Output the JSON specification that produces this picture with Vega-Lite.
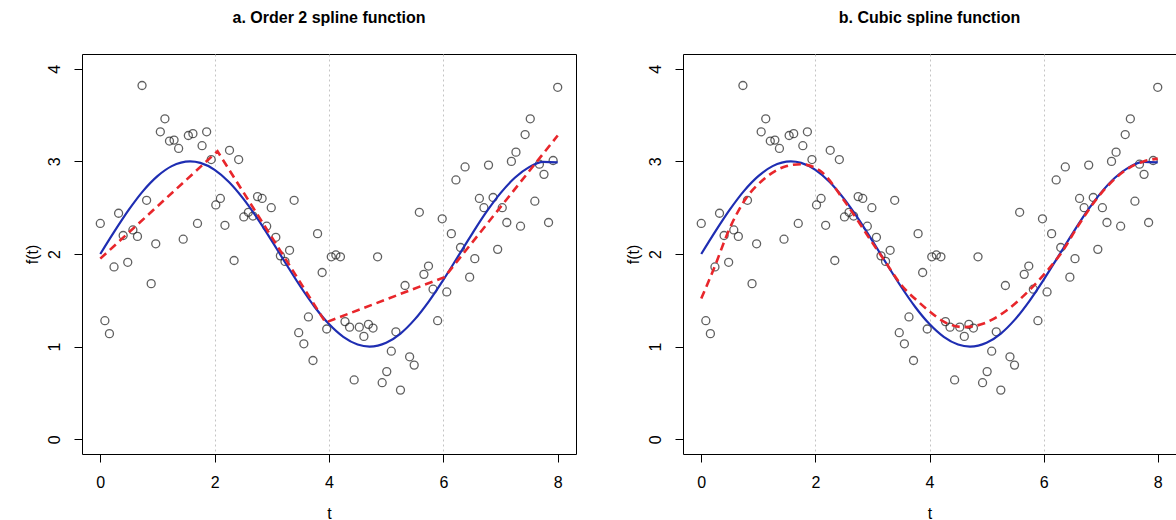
{
  "$schema": "https://vega.github.io/schema/vega-lite/v6.json",
  "background": "white",
  "padding": {"left": 23, "top": 9, "right": 0, "bottom": 0},
  "spacing": 47,
  "datasets": {
    "pts": [
      {"t":0.00,"y":2.33},{"t":0.08,"y":1.28},{"t":0.16,"y":1.14},{"t":0.24,"y":1.86},{"t":0.32,"y":2.44},
      {"t":0.40,"y":2.20},{"t":0.48,"y":1.91},{"t":0.57,"y":2.26},{"t":0.65,"y":2.19},{"t":0.73,"y":3.82},
      {"t":0.81,"y":2.58},{"t":0.89,"y":1.68},{"t":0.97,"y":2.11},{"t":1.05,"y":3.32},{"t":1.13,"y":3.46},
      {"t":1.21,"y":3.22},{"t":1.29,"y":3.23},{"t":1.37,"y":3.14},{"t":1.45,"y":2.16},{"t":1.54,"y":3.28},
      {"t":1.62,"y":3.30},{"t":1.70,"y":2.33},{"t":1.78,"y":3.17},{"t":1.86,"y":3.32},{"t":1.94,"y":3.02},
      {"t":2.02,"y":2.53},{"t":2.10,"y":2.60},{"t":2.18,"y":2.31},{"t":2.26,"y":3.12},{"t":2.34,"y":1.93},
      {"t":2.42,"y":3.02},{"t":2.51,"y":2.40},{"t":2.59,"y":2.45},{"t":2.67,"y":2.41},{"t":2.75,"y":2.62},
      {"t":2.83,"y":2.60},{"t":2.91,"y":2.30},{"t":2.99,"y":2.50},{"t":3.07,"y":2.18},{"t":3.15,"y":1.98},
      {"t":3.23,"y":1.92},{"t":3.31,"y":2.04},{"t":3.39,"y":2.58},{"t":3.47,"y":1.15},{"t":3.56,"y":1.03},
      {"t":3.64,"y":1.32},{"t":3.72,"y":0.85},{"t":3.80,"y":2.22},{"t":3.88,"y":1.80},{"t":3.96,"y":1.19},
      {"t":4.04,"y":1.97},{"t":4.12,"y":1.99},{"t":4.20,"y":1.97},{"t":4.28,"y":1.27},{"t":4.36,"y":1.21},
      {"t":4.44,"y":0.64},{"t":4.53,"y":1.21},{"t":4.61,"y":1.11},{"t":4.69,"y":1.24},{"t":4.77,"y":1.20},
      {"t":4.85,"y":1.97},{"t":4.93,"y":0.61},{"t":5.01,"y":0.73},{"t":5.09,"y":0.95},{"t":5.17,"y":1.16},
      {"t":5.25,"y":0.53},{"t":5.33,"y":1.66},{"t":5.41,"y":0.89},{"t":5.49,"y":0.80},{"t":5.58,"y":2.45},
      {"t":5.66,"y":1.78},{"t":5.74,"y":1.87},{"t":5.82,"y":1.62},{"t":5.90,"y":1.28},{"t":5.98,"y":2.38},
      {"t":6.06,"y":1.59},{"t":6.14,"y":2.22},{"t":6.22,"y":2.80},{"t":6.30,"y":2.07},{"t":6.38,"y":2.94},
      {"t":6.46,"y":1.75},{"t":6.55,"y":1.95},{"t":6.63,"y":2.60},{"t":6.71,"y":2.50},{"t":6.79,"y":2.96},
      {"t":6.87,"y":2.61},{"t":6.95,"y":2.05},{"t":7.03,"y":2.50},{"t":7.11,"y":2.34},{"t":7.19,"y":3.00},
      {"t":7.27,"y":3.10},{"t":7.35,"y":2.30},{"t":7.43,"y":3.29},{"t":7.52,"y":3.46},{"t":7.60,"y":2.57},
      {"t":7.68,"y":2.97},{"t":7.76,"y":2.86},{"t":7.84,"y":2.34},{"t":7.92,"y":3.01},{"t":8.00,"y":3.80}
    ],
    "truth": [
      {"t":0.00,"y":2.000},{"t":0.25,"y":2.247},{"t":0.50,"y":2.479},{"t":0.75,"y":2.682},{"t":1.00,"y":2.841},
      {"t":1.25,"y":2.949},{"t":1.57,"y":3.000},{"t":1.75,"y":2.984},{"t":2.00,"y":2.909},{"t":2.25,"y":2.778},
      {"t":2.50,"y":2.598},{"t":2.75,"y":2.382},{"t":3.00,"y":2.141},{"t":3.25,"y":1.892},{"t":3.50,"y":1.649},
      {"t":3.75,"y":1.428},{"t":4.00,"y":1.243},{"t":4.25,"y":1.105},{"t":4.50,"y":1.022},{"t":4.71,"y":1.000},
      {"t":5.00,"y":1.041},{"t":5.25,"y":1.141},{"t":5.50,"y":1.294},{"t":5.75,"y":1.492},{"t":6.00,"y":1.721},
      {"t":6.25,"y":1.967},{"t":6.50,"y":2.215},{"t":6.75,"y":2.451},{"t":7.00,"y":2.657},{"t":7.25,"y":2.823},
      {"t":7.50,"y":2.938},{"t":7.75,"y":2.995},{"t":8.00,"y":2.989}
    ],
    "order2": [
      {"t":0.00,"y":1.95},{"t":2.05,"y":3.11},{"t":3.94,"y":1.26},{"t":6.02,"y":1.75},{"t":8.00,"y":3.28}
    ],
    "cubic": [
      {"t":0.00,"y":1.52},{"t":0.22,"y":1.84},{"t":0.50,"y":2.28},{"t":0.75,"y":2.57},{"t":1.10,"y":2.81},
      {"t":1.50,"y":2.95},{"t":1.75,"y":2.97},{"t":2.10,"y":2.89},{"t":2.50,"y":2.58},{"t":3.00,"y":2.12},
      {"t":3.20,"y":1.94},{"t":3.50,"y":1.67},{"t":3.83,"y":1.47},{"t":4.00,"y":1.38},{"t":4.25,"y":1.27},
      {"t":4.60,"y":1.21},{"t":4.95,"y":1.25},{"t":5.35,"y":1.39},{"t":5.75,"y":1.61},{"t":6.05,"y":1.81},
      {"t":6.33,"y":2.03},{"t":6.60,"y":2.30},{"t":7.00,"y":2.65},{"t":7.50,"y":2.93},{"t":7.75,"y":3.00},
      {"t":8.00,"y":3.03}
    ]
  },
  "hconcat": [
    {
      "width": 494,
      "height": 400,
      "title": {"text": "a. Order 2 spline function", "frame": "group", "anchor": "middle", "baseline": "alphabetic", "offset": 15},
      "layer": [
        {
          "data": {"name": "pts"},
          "mark": {"type": "point", "shape": "circle", "filled": false, "color": "#1e1e1e", "size": 64, "strokeWidth": 1.3},
          "encoding": {
            "x": {"field": "t", "type": "quantitative", "scale": {"domain": [-0.32, 8.32], "nice": false, "zero": false},
                  "axis": {"title": "t", "values": [0,2,4,6,8], "format": "d", "grid": true, "gridColor": "#c4c4c4", "gridDash": [2,3],
                           "gridOpacity": {"condition": {"test": "datum.value == 0 || datum.value == 8", "value": 0}, "value": 1}}},
            "y": {"field": "y", "type": "quantitative", "scale": {"domain": [-0.16, 4.16], "nice": false, "zero": false},
                  "axis": {"title": "f(t)", "values": [0,1,2,3,4], "format": "d", "grid": false}}
          }
        },
        {
          "data": {"name": "truth"},
          "mark": {"type": "line", "color": "#1e2db2", "strokeWidth": 2.2, "interpolate": "monotone"},
          "encoding": {"x": {"field": "t", "type": "quantitative"}, "y": {"field": "y", "type": "quantitative"}}
        },
        {
          "data": {"name": "order2"},
          "mark": {"type": "line", "color": "#e8262b", "strokeWidth": 2.6, "strokeDash": [8, 5]},
          "encoding": {"x": {"field": "t", "type": "quantitative"}, "y": {"field": "y", "type": "quantitative"}}
        }
      ]
    },
    {
      "width": 493,
      "height": 400,
      "title": {"text": "b. Cubic spline function", "frame": "group", "anchor": "middle", "baseline": "alphabetic", "offset": 15},
      "layer": [
        {
          "data": {"name": "pts"},
          "mark": {"type": "point", "shape": "circle", "filled": false, "color": "#1e1e1e", "size": 64, "strokeWidth": 1.3},
          "encoding": {
            "x": {"field": "t", "type": "quantitative", "scale": {"domain": [-0.32, 8.32], "nice": false, "zero": false},
                  "axis": {"title": "t", "values": [0,2,4,6,8], "format": "d", "grid": true, "gridColor": "#c4c4c4", "gridDash": [2,3],
                           "gridOpacity": {"condition": {"test": "datum.value == 0 || datum.value == 8", "value": 0}, "value": 1}}},
            "y": {"field": "y", "type": "quantitative", "scale": {"domain": [-0.16, 4.16], "nice": false, "zero": false},
                  "axis": {"title": "f(t)", "values": [0,1,2,3,4], "format": "d", "grid": false}}
          }
        },
        {
          "data": {"name": "truth"},
          "mark": {"type": "line", "color": "#1e2db2", "strokeWidth": 2.2, "interpolate": "monotone"},
          "encoding": {"x": {"field": "t", "type": "quantitative"}, "y": {"field": "y", "type": "quantitative"}}
        },
        {
          "data": {"name": "cubic"},
          "mark": {"type": "line", "color": "#e8262b", "strokeWidth": 2.6, "strokeDash": [8, 5], "interpolate": "monotone"},
          "encoding": {"x": {"field": "t", "type": "quantitative"}, "y": {"field": "y", "type": "quantitative"}}
        }
      ]
    }
  ],
  "config": {
    "view": {"stroke": "#000000", "strokeWidth": 1},
    "font": "Liberation Sans",
    "axis": {
      "domain": false, "tickColor": "#000000", "tickSize": 8, "tickWidth": 1,
      "labelFont": "Liberation Sans", "labelFontSize": 16, "labelColor": "#000000",
      "titleFont": "Liberation Sans", "titleFontSize": 16, "titleFontWeight": "normal", "titleColor": "#000000"
    },
    "axisX": {"labelPadding": 12, "titlePadding": 15, "labelAngle": 0},
    "axisY": {"labelAngle": 270, "labelAlign": "center", "labelBaseline": "bottom", "labelPadding": 12, "titlePadding": 6},
    "title": {"fontSize": 16, "fontWeight": "bold", "font": "Liberation Sans", "color": "#000000"}
  }
}
